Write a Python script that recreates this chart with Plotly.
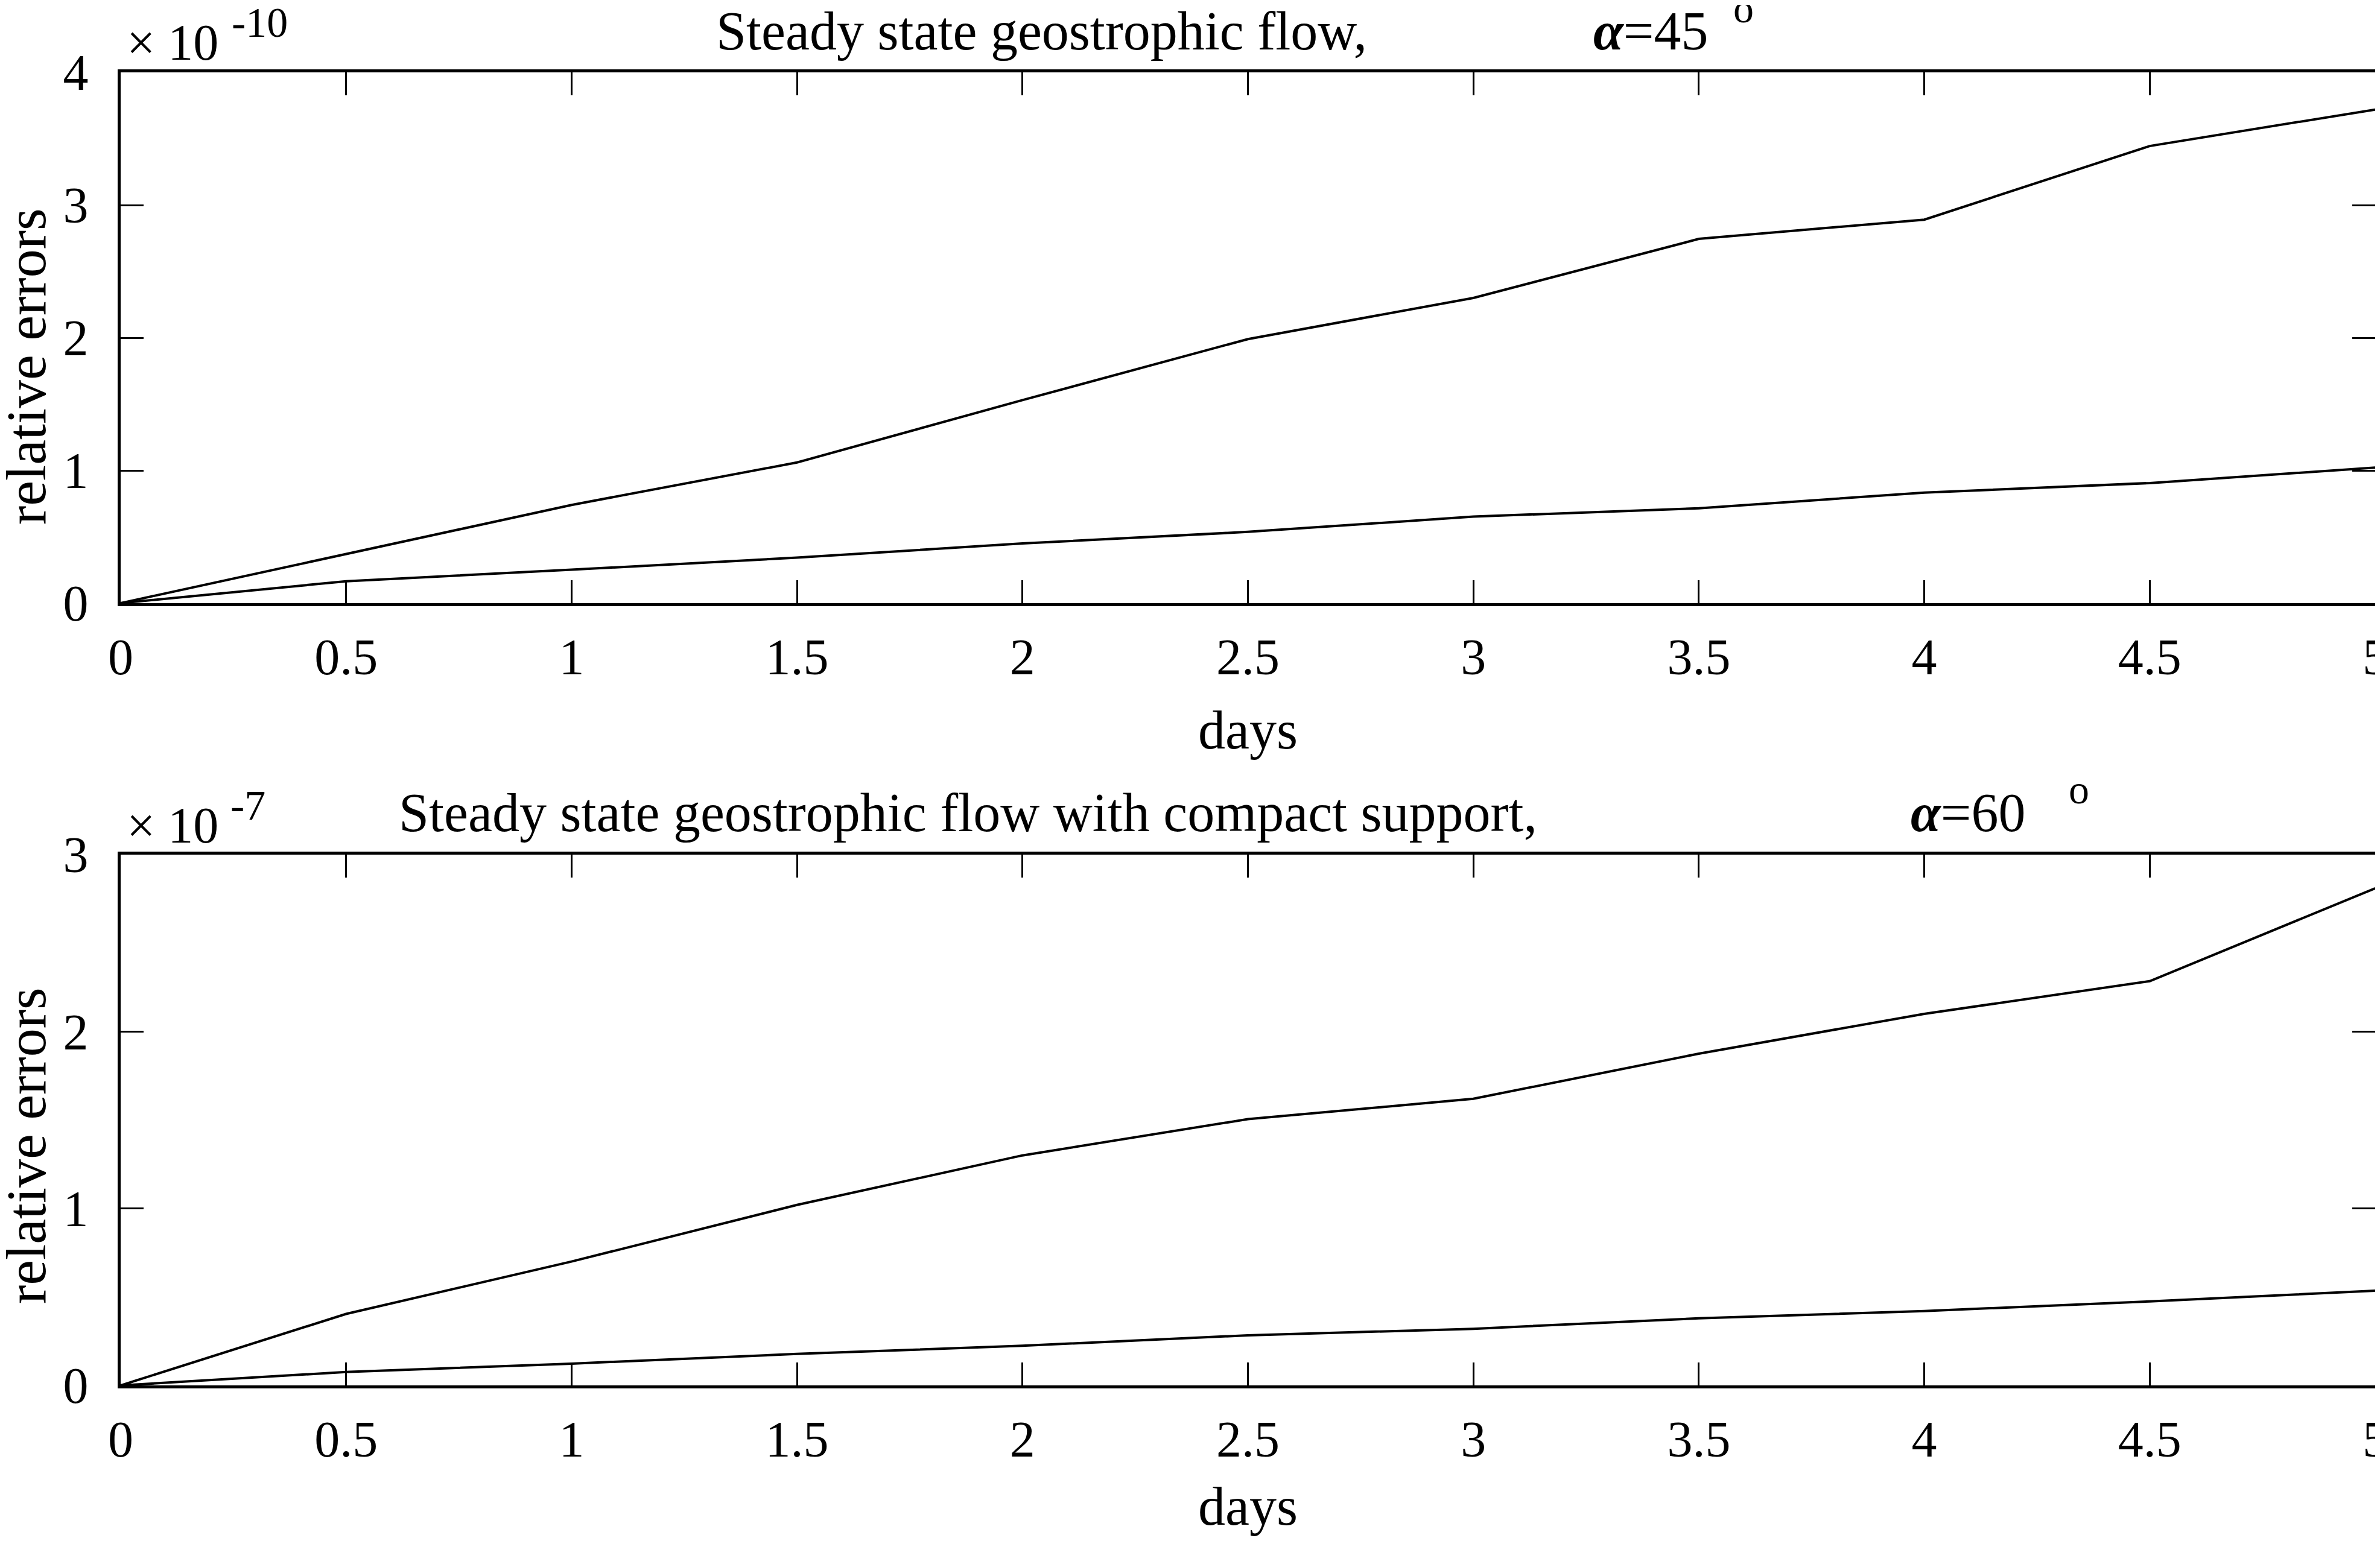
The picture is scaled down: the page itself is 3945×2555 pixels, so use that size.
import plotly.graph_objects as go

# ---------------- data ----------------
days = [0, 0.5, 1, 1.5, 2, 2.5, 3, 3.5, 4, 4.5, 5]
x_tick_vals = [0, 0.5, 1, 1.5, 2, 2.5, 3, 3.5, 4, 4.5, 5]
x_tick_text = ["0", "0.5", "1", "1.5", "2", "2.5", "3", "3.5", "4", "4.5", "5"]

# panel 1: relative errors in units of 1e-10
geo45_upper = [0, 0.37, 0.74, 1.06, 1.53, 1.99, 2.30, 2.745, 2.89, 3.445, 3.72]
geo45_lower = [0, 0.165, 0.252, 0.343, 0.45, 0.537, 0.652, 0.715, 0.833, 0.905, 1.022]
y1_tick_vals = [0, 1, 2, 3, 4]
y1_tick_text = ["0", "1", "2", "3", "4"]

# panel 2: relative errors in units of 1e-7
cs60_upper = [0, 0.404, 0.70, 1.02, 1.30, 1.505, 1.62, 1.875, 2.10, 2.285, 2.81]
cs60_lower = [0, 0.076, 0.123, 0.178, 0.224, 0.283, 0.32, 0.379, 0.42, 0.475, 0.535]
y2_tick_vals = [0, 1, 2, 3]
y2_tick_text = ["0", "1", "2", "3"]

title1 = "Steady state geostrophic flow,"
title2 = "Steady state geostrophic flow with compact support,"
alpha1 = "<b><i>α</i></b>=45"
alpha2 = "<b><i>α</i></b>=60"
exp1 = "-10"
exp2 = "-7"
x_label = "days"
y_label = "relative errors"

# ---------------- layout helpers ----------------
W, H = 3945, 2555
BODY = 8                    # default page body margin
FW, FH = W - 2 * BODY, H - 2 * BODY
FONT = "Liberation Serif, Times New Roman, serif"


def px(x):
    return (x - BODY) / FW


def py(y):
    return 1 - (y - BODY) / FH


fig = go.Figure()
line_style = dict(color="black", width=4)
fig.add_trace(go.Scatter(x=days, y=geo45_upper, mode="lines", line=line_style, xaxis="x", yaxis="y", showlegend=False))
fig.add_trace(go.Scatter(x=days, y=geo45_lower, mode="lines", line=line_style, xaxis="x", yaxis="y", showlegend=False))
fig.add_trace(go.Scatter(x=days, y=cs60_upper, mode="lines", line=line_style, xaxis="x2", yaxis="y2", showlegend=False))
fig.add_trace(go.Scatter(x=days, y=cs60_lower, mode="lines", line=line_style, xaxis="x2", yaxis="y2", showlegend=False))

X0, X1 = 200, 3937
P1_TOP, P1_BOT = 120, 1000
P2_TOP, P2_BOT = 1417, 2297

common_axis = dict(
    showline=True, linecolor="black", linewidth=4.5, mirror="allticks",
    ticks="inside", ticklen=38, tickwidth=3, tickcolor="black",
    showgrid=False, zeroline=False, automargin=False,
    ticklabeloverflow="allow",
    tickfont=dict(family=FONT, size=84, color="black"),
)

xcommon = dict(common_axis, range=[0, 5], tickvals=x_tick_vals, ticktext=x_tick_text,
               title=dict(text=x_label, font=dict(family=FONT, size=90, color="black"), standoff=45),
               domain=[px(X0), px(X1)], ticklabelstandoff=12)

ycommon = dict(common_axis, ticklabelstandoff=32)

fig.update_layout(
    width=FW, height=FH,
    margin=dict(l=0, r=0, t=0, b=0, autoexpand=False),
    paper_bgcolor="white", plot_bgcolor="white",
    xaxis=dict(xcommon, anchor="y"),
    xaxis2=dict(xcommon, anchor="y2"),
    yaxis=dict(ycommon, range=[0, 4], tickvals=y1_tick_vals, ticktext=y1_tick_text,
               domain=[py(P1_BOT), py(P1_TOP)], anchor="x"),
    yaxis2=dict(ycommon, range=[0, 3], tickvals=y2_tick_vals, ticktext=y2_tick_text,
                domain=[py(P2_BOT), py(P2_TOP)], anchor="x2"),
)


def txt(text, x, baseline, size):
    # place text so that its baseline sits at the given pixel row
    fig.add_annotation(text=text, xref="paper", yref="paper", x=px(x), y=py(baseline + 0.22 * size),
                       xanchor="left", yanchor="bottom", showarrow=False,
                       font=dict(family=FONT, size=size, color="black"), borderpad=0)


def ylabel(text, xc, yc, size):
    fig.add_annotation(text=text, xref="paper", yref="paper", x=px(xc), y=py(yc),
                       xanchor="center", yanchor="middle", textangle=-90, showarrow=False,
                       font=dict(family=FONT, size=size, color="black"), borderpad=0)


# panel 1 texts
txt("× 10", 209, 100, 84)
txt(exp1, 383, 62, 70)
txt(title1, 1186, 82, 90)
txt(alpha1, 2640, 82, 90)
txt("o", 2872, 38, 68)
ylabel(y_label, 43, 608, 94)

# panel 2 texts
txt("× 10", 209, 1398, 84)
txt(exp2, 381, 1360, 70)
txt(title2, 660, 1378, 90)
txt(alpha2, 3166, 1378, 90)
txt("o", 3428, 1333, 68)
ylabel(y_label, 43, 1900, 94)

fig.write_html("out.html")
